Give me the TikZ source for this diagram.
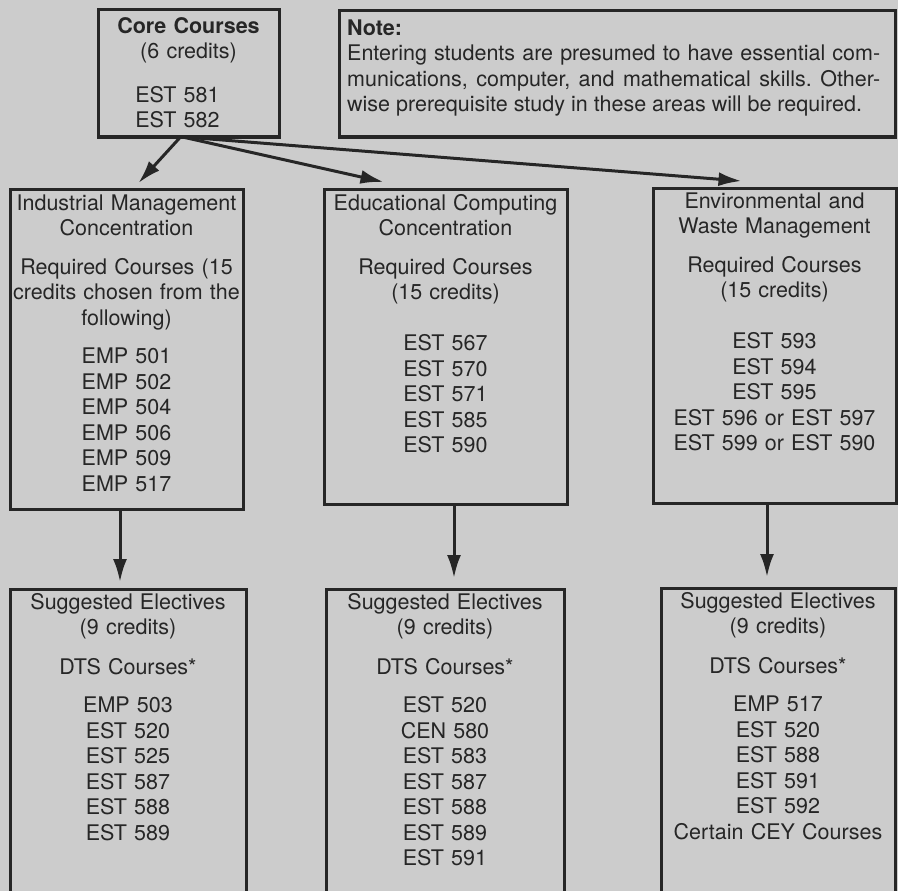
\documentclass[tikz,border=0pt]{standalone}
\usepackage{fontspec}
\setmainfont{TeX Gyre Heros}
\usetikzlibrary{positioning, arrows.meta}
\definecolor{paper}{gray}{0.80}
\definecolor{ink}{gray}{0.15}
\frenchspacing

\begin{document}
\begin{tikzpicture}[x=1pt, y=-1pt,
		box/.style={draw=ink, line width=3pt, outer sep=0pt, inner sep=0pt, anchor=north west},
		txt/.style={text=ink, inner sep=0pt, align=center, font={\fontsize{21.5}{25.5}\selectfont}, execute at begin node=\strut},
		arr/.style={draw=ink, line width=3pt, -{Latex[length=23pt, width=14pt]}}]
		\useasboundingbox (0,0) rectangle (898,891);
		\clip (0,0) rectangle (898,891);
		\fill[paper] (0,0) rectangle (898,891);
		
		% Cajas
		\node[box, minimum width=181pt, minimum height=127pt] (core) at (98,10) {};
		\node[box, minimum width=556pt, minimum height=126pt] (note) at (339,11) {};
		\node[box, minimum width=233pt, minimum height=320pt] (ind) at (10,189) {};
		\node[box, minimum width=243pt, minimum height=315pt] (edu) at (324,189) {};
		\node[box, minimum width=243pt, minimum height=315pt] (env) at (653,188) {};
		\node[box, minimum width=236pt, minimum height=330pt] (indel) at (10,589) {};
		\node[box, minimum width=238pt, minimum height=330pt] (eduel) at (326,589) {};
		\node[box, minimum width=234pt, minimum height=330pt] (envel) at (661,588) {};
		
		% Textos
		\node[txt, text width=175pt, below=5pt of core.north] (coretxt) {\textbf{Core Courses}\\(6 credits)\\[18pt]\hspace*{-22pt}EST 581\\\hspace*{-22pt}EST 582};
		\node[txt, text width=533pt, align=justify, below right=6pt and 8pt of note.north west] (notetxt) {\textbf{Note:}\\Entering students are presumed to have essential com-\linebreak munications, computer, and mathematical skills. Other-\linebreak wise prerequisite study in these areas will be required.};
		\node[txt, text width=229pt, below=3pt of ind.north] (indtxt) {Industrial Management\\Concentration\\[13pt]Required Courses (15\\credits chosen from the\\following)\\[13pt]EMP 501\\EMP 502\\EMP 504\\EMP 506\\EMP 509\\EMP 517};
		\node[txt, text width=237pt, below=3pt of edu.north] (edutxt) {Educational Computing\\Concentration\\[13pt]Required Courses\\(15 credits)\\[25.5pt]EST 567\\EST 570\\EST 571\\EST 585\\EST 590};
		\node[txt, text width=237pt, below=2pt of env.north] (envtxt) {Environmental and\\Waste Management\\[13pt]Required Courses\\(15 credits)\\[25.5pt]EST 593\\EST 594\\EST 595\\EST 596 or EST 597\\EST 599 or EST 590};
		\node[txt, text width=230pt, below=2pt of indel.north] (indeltxt) {Suggested Electives\\(9 credits)\\[14pt]DTS Courses*\\[13pt]EMP 503\\EST 520\\EST 525\\EST 587\\EST 588\\EST 589};
		\node[txt, text width=232pt, below=2pt of eduel.north] (eduextxt) {Suggested Electives\\(9 credits)\\[14pt]DTS Courses*\\[13pt]EST 520\\CEN 580\\EST 583\\EST 587\\EST 588\\EST 589\\EST 591};
		\node[txt, text width=230pt, below=2pt of envel.north] (enveltxt) {Suggested Electives\\(9 credits)\\[14pt]DTS Courses*\\[13pt]EMP 517\\EST 520\\EST 588\\EST 591\\EST 592\\Certain CEY Courses};
		
		% Flechas
		\draw[arr] ([xshift=-8pt]core.south) -- ([xshift=12pt, yshift=6pt]ind.north);
		\draw[arr] ([xshift=-6pt]core.south) -- ([xshift=-62pt, yshift=7pt]edu.north);
		\draw[arr] ([xshift=-4pt]core.south) -- ([xshift=-33pt, yshift=7pt]env.north);
		\draw[arr] ([xshift=-6.5pt]ind.south) -- ([xshift=-8pt, yshift=7pt]indel.north);
		\draw[arr] ([xshift=8.5pt]edu.south) -- ([xshift=9pt, yshift=11pt]eduel.north);
		\draw[arr] ([xshift=-7.5pt]env.south) -- ([xshift=-11pt, yshift=11pt]envel.north);
	\end{tikzpicture}
\end{document}
